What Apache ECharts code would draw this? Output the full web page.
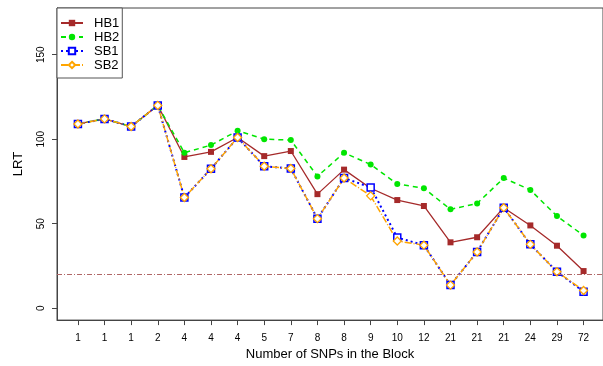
<!DOCTYPE html>
<html>
<head>
<meta charset="utf-8">
<script src="https://cdn.jsdelivr.net/npm/echarts@6/dist/echarts.min.js"></script>
<style>
html,body{margin:0;padding:0;background:#fff;}
#chart{width:603px;height:366px;}
</style>
</head>
<body>
<div id="chart"></div>
<script>
var categories = ['1','1','1','2','4','4','4','5','7','8','8','9','10','12','21','21','21','24','29','72'];
var hb1 = [109,112,107.5,120,89.5,92.5,101,90,93,67.5,82,71,64,60.5,39,42,59.5,49,37,22];
var hb2 = [109,112,107.5,120,92,96.5,105,100,99.5,78,92,85,73.5,71,58.5,62,77,70,54.5,43];
var sb1 = [109,112,107.5,120,65.5,82.5,101,84,82.7,53,77,71.5,41.8,37.3,13.7,33.3,59.5,37.8,21.6,9.8];
var sb2 = [109,112,107.5,120,65.5,82.5,101,84,82.7,53,77,66.5,39.8,37.3,13.7,33.3,59.5,37.8,21.6,10.5];
var yTicks = [0,50,100,150];
var threshold = 20.4;

function pairs(arr){ return arr.map(function(v,i){ return [i,v]; }); }
var xIdx = categories.map(function(c,i){ return i; });

var chart = echarts.init(document.getElementById('chart'), null, {renderer:'canvas'});
var font = 'Liberation Sans, Arial, sans-serif';
chart.setOption({
  animation:false,
  backgroundColor:'#fff',
  grid:{left:57, top:8, right:-2, bottom:44, show:true, borderColor:'#444', borderWidth:1, backgroundColor:'transparent'},
  legend:{
    left:57, top:8, orient:'vertical',
    backgroundColor:'#fff', borderColor:'#555', borderWidth:1,
    padding:[8,3,6,3], itemGap:0, itemWidth:22, itemHeight:8,
    textStyle:{fontSize:13, lineHeight:14, color:'#000', fontFamily:font, padding:[0,0,0,6]},
    data:[
      {name:'HB1', itemStyle:{borderWidth:0}},
      {name:'HB2'},
      {name:'SB1'},
      {name:'SB2'}
    ]
  },
  xAxis:{
    type:'value', min:-0.786, max:19.73,
    name:'Number of SNPs in the Block', nameLocation:'middle', nameGap:26,
    nameTextStyle:{fontSize:13, color:'#000', fontFamily:font},
    splitLine:{show:false},
    axisLine:{show:true, onZero:false, lineStyle:{color:'#444', width:1}},
    axisTick:{show:true, customValues:xIdx, length:5, lineStyle:{color:'#444'}},
    axisLabel:{customValues:xIdx, margin:13, fontSize:10, color:'#000', fontFamily:font,
      formatter:function(v){ return categories[Math.round(v)]; }}
  },
  yAxis:{
    type:'value', min:-7, max:177.6,
    name:'LRT', nameLocation:'middle', nameGap:32, nameRotate:90,
    nameTextStyle:{fontSize:13, color:'#000', fontFamily:font},
    splitLine:{show:false},
    axisLine:{show:true, onZero:false, lineStyle:{color:'#444', width:1}},
    axisTick:{show:true, customValues:yTicks, length:5, lineStyle:{color:'#444'}},
    axisLabel:{customValues:yTicks, rotate:90, margin:11, fontSize:10, color:'#000', fontFamily:font,
      align:'center', verticalAlign:'bottom'}
  },
  series:[
    {name:'HB1', type:'line', data:pairs(hb1), symbol:'rect', symbolSize:6,
     itemStyle:{color:'#a52a2a'}, lineStyle:{color:'#a52a2a', width:1.3, type:'solid'},
     markLine:{silent:true, symbol:'none', label:{show:false},
       lineStyle:{color:'#b06868', width:1, type:[5,2,1,2]},
       data:[{yAxis:threshold}]}},
    {name:'HB2', type:'line', data:pairs(hb2), symbol:'circle', symbolSize:6,
     itemStyle:{color:'#00e600'}, lineStyle:{color:'#00e600', width:1.5, type:[5,4]}},
    {name:'SB1', type:'line', data:pairs(sb1), symbol:'rect', symbolSize:7,
     itemStyle:{color:'#fff', borderColor:'#0000ff', borderWidth:1.5},
     lineStyle:{color:'#0000ff', width:2, type:[2,3]}},
    {name:'SB2', type:'line', data:pairs(sb2), symbol:'diamond', symbolSize:8,
     itemStyle:{color:'#fff', borderColor:'#ffa500', borderWidth:1.3},
     lineStyle:{color:'#ffa500', width:1.5, type:[7,2,1,2]}}
  ]
});
</script>
</body>
</html>
